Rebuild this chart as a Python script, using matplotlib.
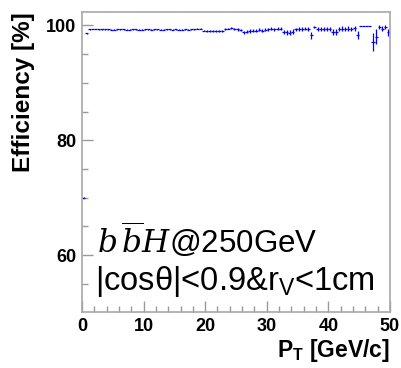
import numpy as np
import matplotlib
matplotlib.use("Agg")
import matplotlib.pyplot as plt
from matplotlib.ticker import MultipleLocator

plt.rcParams.update({
    "font.family": ["Liberation Sans", "DejaVu Sans"],
    "mathtext.fontset": "custom",
    "mathtext.rm": "Liberation Sans",
    "mathtext.it": "DejaVu Serif:italic",
    "mathtext.bf": "Liberation Sans:bold",
})

# efficiency per 0.5 GeV/c bin, 0 - 50 GeV/c
bin_edges = np.arange(0.0, 50.01, 0.5)
eff = [
    70.0, 98.6, 99.3, 99.35, 99.35, 99.3, 99.3, 99.3, 99.3, 99.25,
    99.25, 99.3, 99.3, 99.3, 99.25, 99.25, 99.3, 99.3, 99.25, 99.25,
    99.3, 99.3, 99.25, 99.3, 99.3, 99.25, 99.25, 99.3, 99.3, 99.25,
    99.3, 99.25, 99.25, 99.3, 99.25, 99.3, 99.3, 99.45, 99.45, 99.1,
    99.0, 99.0, 99.05, 98.95, 99.1, 99.0, 99.4, 99.45, 99.5, 99.4,
    99.3, 99.25, 98.8, 98.9, 99.0, 99.05, 99.1, 99.2, 99.1, 99.25,
    99.3, 99.4, 99.35, 99.45, 99.4, 98.85, 98.8, 98.75, 98.9, 99.3,
    99.4, 99.4, 99.45, 99.4, 98.3, 99.7, 99.4, 99.4, 99.4, 99.45,
    99.4, 98.8, 98.85, 99.4, 99.45, 99.4, 99.45, 99.4, 99.5, 98.3,
    99.9, 99.9, 99.9, 99.9, 97.1, 98.0, 99.7, 99.4, 99.7, 98.8,
]
err = [
    0.05, 0.1, 0.03, 0.03, 0.03, 0.03, 0.03, 0.03, 0.03, 0.04,
    0.04, 0.04, 0.04, 0.04, 0.05, 0.05, 0.05, 0.05, 0.06, 0.06,
    0.06, 0.07, 0.07, 0.07, 0.08, 0.08, 0.08, 0.09, 0.09, 0.1,
    0.1, 0.1, 0.11, 0.11, 0.12, 0.12, 0.12, 0.1, 0.1, 0.15,
    0.15, 0.15, 0.16, 0.17, 0.17, 0.18, 0.15, 0.15, 0.15, 0.18,
    0.2, 0.2, 0.3, 0.28, 0.28, 0.28, 0.27, 0.26, 0.28, 0.27,
    0.27, 0.25, 0.27, 0.25, 0.27, 0.4, 0.42, 0.42, 0.4, 0.3,
    0.3, 0.3, 0.3, 0.32, 0.6, 0.2, 0.35, 0.35, 0.35, 0.35,
    0.37, 0.55, 0.5, 0.38, 0.38, 0.4, 0.4, 0.4, 0.4, 0.65,
    0.0, 0.0, 0.0, 0.0, 1.5, 1.3, 0.3, 0.45, 0.3, 0.6,
]

centers = 0.5 * (bin_edges[:-1] + bin_edges[1:])
half_w = 0.5 * np.diff(bin_edges)

fig = plt.figure(figsize=(4.02, 3.68), dpi=100)
ax = fig.add_axes([0.204, 0.152, 0.766, 0.815])

ax.errorbar(centers, eff, xerr=half_w, yerr=err, fmt="none",
            ecolor="#0000ff", elinewidth=0.9, capsize=0)

ax.set_xlim(0, 50)
ax.set_ylim(50.1, 102.3)
ax.xaxis.set_major_locator(MultipleLocator(10))
ax.xaxis.set_minor_locator(MultipleLocator(2))
ax.yaxis.set_major_locator(MultipleLocator(20))
ax.yaxis.set_minor_locator(MultipleLocator(5))
ax.tick_params(which="both", direction="in", color="#999999",
               top=False, right=False, labelsize=13, pad=4)
ax.tick_params(which="major", length=8, width=1)
ax.tick_params(which="minor", length=4, width=1)
for lab in ax.get_xticklabels() + ax.get_yticklabels():
    lab.set_fontweight("bold")
for s in ax.spines.values():
    s.set_color("#a8a8a8")
    s.set_linewidth(1.2)

ax.set_ylabel("Efficiency [%]", fontsize=17.5, fontweight="bold", loc="top",
              labelpad=8)
ax.set_xlabel(r"P$_\mathbf{T}$ [GeV/c]", fontsize=16.5, fontweight="bold",
              loc="right", labelpad=2)

ax.text(0.05, 0.2, r"$b\,\overline{b}H$@250GeV", transform=ax.transAxes,
        fontsize=22.5, ha="left", va="baseline")
ax.text(0.042, 0.073, r"|cosθ|<0.9&r$_\mathrm{V}$<1cm",
        transform=ax.transAxes, fontsize=23.5, ha="left", va="baseline")

fig.savefig("out.png", dpi=100)
